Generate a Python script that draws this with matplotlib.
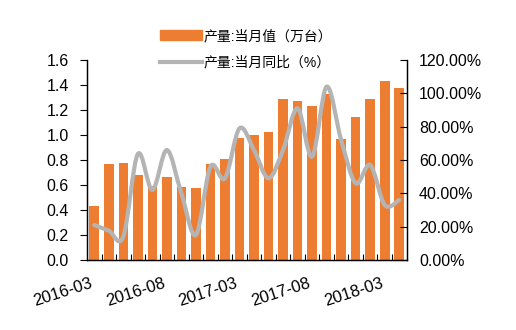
import matplotlib
matplotlib.use("Agg")
import matplotlib.pyplot as plt
from matplotlib.path import Path
from matplotlib.patches import PathPatch
from matplotlib.lines import Line2D
import numpy as np

plt.rcParams['font.family'] = ['Liberation Sans', 'Noto Sans CJK SC']

# 月份（无1、2月数据）
months = ["2016-03", "2016-04", "2016-05", "2016-06", "2016-07", "2016-08",
          "2016-09", "2016-10", "2016-11", "2016-12",
          "2017-03", "2017-04", "2017-05", "2017-06", "2017-07", "2017-08",
          "2017-09", "2017-10", "2017-11", "2017-12",
          "2018-03", "2018-04"]
# 产量:当月值（万台）
output = [0.43, 0.765, 0.78, 0.68, 0.59, 0.667, 0.587, 0.58, 0.765, 0.805,
          0.98, 1.0, 1.025, 1.285, 1.27, 1.235, 1.33, 0.965, 1.147, 1.29,
          1.43, 1.373]
# 产量:当月同比（%）
growth = [21, 17.6, 14, 63.6, 42, 66, 40, 15, 56, 49,
          79, 66, 49, 66, 91, 62, 104, 72, 46, 57,
          33, 36]
shown_labels = ["2016-03", "2016-08", "2017-03", "2017-08", "2018-03"]

bar_color = "#ED7D31"
line_color = "#B4B4B4"


def smooth_path(x, y):
    """Courbe lissée façon Excel (Catmull-Rom -> Bézier)"""
    pts = np.column_stack([x, y]).astype(float)
    verts = [pts[0]]
    codes = [Path.MOVETO]
    n = len(pts)
    for i in range(n - 1):
        p0 = pts[i - 1] if i > 0 else pts[i]
        p1 = pts[i]
        p2 = pts[i + 1]
        p3 = pts[i + 2] if i + 2 < n else pts[i + 1]
        c1 = p1 + (p2 - p0) / 6
        c2 = p2 - (p3 - p1) / 6
        verts += [c1, c2, p2]
        codes += [Path.CURVE4] * 3
    return Path(verts, codes)


fig = plt.figure(figsize=(5.16, 3.3), dpi=100)
ax = fig.add_axes([87 / 516, 1 - 260 / 330, (406.5 - 87) / 516, 200 / 330])
ax2 = ax.twinx()

x = np.arange(len(months))
ax.bar(x, output, width=0.66, color=bar_color, zorder=2)
ax.set_xlim(-0.5, len(months) - 0.5)
ax.set_ylim(0, 1.6)
ax.set_yticks(np.arange(0, 1.61, 0.2))
ax.set_yticklabels(["%.1f" % v for v in np.arange(0, 1.61, 0.2)])

ax2.set_ylim(0, 120)
ax2.set_yticks(np.arange(0, 121, 20))
ax2.set_yticklabels(["%.2f%%" % v for v in np.arange(0, 121, 20)])
ax2.add_patch(PathPatch(smooth_path(x, growth), facecolor="none",
                        edgecolor=line_color, lw=3, capstyle="round",
                        joinstyle="round", zorder=3))

ax.set_xticks([months.index(m) for m in shown_labels])
ax.set_xticklabels(shown_labels, rotation=18, ha="right", va="top")
ax.set_xticks(np.arange(0.5, len(months) - 1, 1), minor=True)
ax.tick_params(axis="x", which="major", length=0, pad=11, labelsize=12)
ax.tick_params(axis="x", which="minor", direction="in", length=4, width=0.8)
ax.tick_params(axis="y", direction="out", length=5, width=0.8, pad=8,
               labelsize=11.5)
ax2.tick_params(axis="y", direction="in", length=5, width=0.8, pad=9,
                labelsize=11.5)

for a in (ax, ax2):
    a.spines["top"].set_visible(False)
    for s in ("left", "right", "bottom"):
        a.spines[s].set_linewidth(0.9)

handles = [plt.Rectangle((0, 0), 1, 1, color=bar_color),
           Line2D([0], [0], color=line_color, lw=3)]
fig.legend(handles, ["产量:当月值（万台）", "产量:当月同比（%）"],
           loc="upper left", bbox_to_anchor=(160 / 516, 1 - 29 / 330),
           frameon=False, fontsize=10, handlelength=3.0, handletextpad=0.15,
           labelspacing=0.9, borderpad=0, borderaxespad=0)

plt.savefig("out.png", dpi=100)
